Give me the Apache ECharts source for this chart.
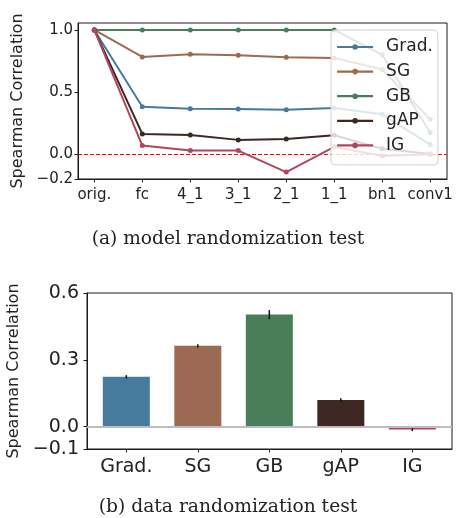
<!DOCTYPE html>
<html>
<head>
<meta charset="utf-8">
<script src="https://cdn.jsdelivr.net/npm/echarts@6/dist/echarts.min.js"></script>
<style>html,body{margin:0;padding:0;background:#fff}#c{width:456px;height:518px}</style>
</head>
<body>
<div id="c"></div>
<script>
const layers = ['orig.', 'fc', '4_1', '3_1', '2_1', '1_1', 'bn1', 'conv1'];
const methods = ['Grad.', 'SG', 'GB', 'gAP', 'IG'];
const gradVals = [1.0, 0.382, 0.366, 0.364, 0.358, 0.372, 0.321, 0.077];
const sgVals   = [1.0, 0.783, 0.805, 0.797, 0.781, 0.775, 0.682, 0.281];
const gbVals   = [1.0, 1.0, 1.0, 1.0, 1.0, 1.0, 0.80, 0.173];
const gapVals  = [1.0, 0.163, 0.155, 0.115, 0.123, 0.152, 0.043, 0.002];
const igVals   = [1.0, 0.069, 0.029, 0.029, -0.144, 0.059, -0.014, 0.0];
const barVals  = [0.224, 0.363, 0.503, 0.120, -0.013];
const barErr   = [0.003, 0.003, 0.016, 0.003, 0.002];
const topYTicks = [-0.2, 0, 0.5, 1.0];
const botYTicks = [-0.1, 0, 0.3, 0.6];

const colors = ['#467b9e', '#9c6a53', '#4a7d5a', '#3e2622', '#b0465f'];
const lineSeriesVals = [gradVals, sgVals, gbVals, gapVals, igVals];
const font = 'DejaVu Sans';
const axisCol = '#1a1a1a';
const fmtNum = v => (Math.abs(v) < 1e-9 ? '0.0' : v.toFixed(1).replace('-', '\u2212'));

const chart = echarts.init(document.getElementById('c'), null, {renderer: 'canvas'});

const lineSeries = lineSeriesVals.map((vals, k) => ({
  name: methods[k],
  type: 'line',
  xAxisIndex: 0, yAxisIndex: 0,
  data: vals.map((v, i) => [i, v]),
  symbol: 'circle', symbolSize: 5,
  lineStyle: {width: 2, color: colors[k]},
  itemStyle: {color: colors[k]},
  z: 3 + k,
  animation: false,
  markLine: k === 0 ? {
    silent: true, symbol: 'none', label: {show: false},
    lineStyle: {color: '#ff0000', width: 1, type: [4, 2]},
    data: [{yAxis: 0}]
  } : undefined
}));

const axisLineCfg = {show: true, onZero: false, lineStyle: {color: axisCol, width: 1}};

const option = {
  animation: false,
  title: [
    {text: '(a) model randomization test', left: 'center', top: 225,
     textStyle: {fontFamily: 'DejaVu Serif', fontSize: 18.6, fontWeight: 'normal', color: '#222'}},
    {text: '(b) data randomization test', left: 'center', top: 493,
     textStyle: {fontFamily: 'DejaVu Serif', fontSize: 18.7, fontWeight: 'normal', color: '#222'}}
  ],
  legend: {
    data: methods,
    orient: 'vertical',
    left: 331, top: 30,
    padding: [8.5, 5, 11, 5],
    itemWidth: 36, itemHeight: 7, itemGap: 7.6,
    backgroundColor: 'rgba(255,255,255,0.82)',
    borderColor: '#d0d0d0', borderWidth: 1, borderRadius: 4,
    lineStyle: {width: 2.2},
    textStyle: {fontFamily: font, fontSize: 17, color: '#222', padding: [0, 0, 0, 8]},
    z: 20
  },
  grid: [
    {left: 78, top: 23, width: 369, height: 156, show: true, borderColor: axisCol, borderWidth: 1,
     containLabel: false, outerBoundsMode: 'none'},
    {left: 87, top: 293, width: 365, height: 156, show: true, borderColor: axisCol, borderWidth: 1,
     containLabel: false, outerBoundsMode: 'none'}
  ],
  xAxis: [
    {type: 'value', gridIndex: 0, min: -0.34, max: 7.35,
     axisLine: axisLineCfg, splitLine: {show: false},
     axisTick: {show: true, length: 3.5, lineStyle: {color: axisCol}, customValues: layers.map((_, i) => i)},
     axisLabel: {customValues: layers.map((_, i) => i), formatter: v => layers[Math.round(v)],
                 fontFamily: font, fontSize: 15, color: '#222', margin: 9}},
    {type: 'value', gridIndex: 1, min: -0.55, max: 4.555,
     axisLine: axisLineCfg, splitLine: {show: false},
     axisTick: {show: true, length: 3.5, lineStyle: {color: axisCol}, customValues: methods.map((_, i) => i)},
     axisLabel: {customValues: methods.map((_, i) => i), formatter: v => methods[Math.round(v)],
                 fontFamily: font, fontSize: 19, color: '#222', margin: 9}}
  ],
  yAxis: [
    {type: 'value', gridIndex: 0, min: -0.2, max: 1.056,
     axisLine: axisLineCfg, splitLine: {show: false},
     axisTick: {show: true, length: 3.5, lineStyle: {color: axisCol}, customValues: topYTicks},
     axisLabel: {customValues: topYTicks, formatter: fmtNum, fontFamily: font, fontSize: 15, color: '#222', margin: 5},
     name: 'Spearman Correlation', nameLocation: 'middle', nameGap: 52,
     nameTextStyle: {fontFamily: font, fontSize: 16, color: '#222'}},
    {type: 'value', gridIndex: 1, min: -0.1, max: 0.6,
     axisLine: axisLineCfg, splitLine: {show: false},
     axisTick: {show: true, length: 3.5, lineStyle: {color: axisCol}, customValues: botYTicks},
     axisLabel: {customValues: botYTicks, formatter: fmtNum, fontFamily: font, fontSize: 19, color: '#222', margin: 8},
     name: 'Spearman Correlation', nameLocation: 'middle', nameGap: 55,
     nameTextStyle: {fontFamily: font, fontSize: 16, color: '#222'}}
  ],
  series: [
    ...lineSeries,
    {
      type: 'bar', xAxisIndex: 1, yAxisIndex: 1,
      barWidth: 47,
      data: barVals.map((v, i) => ({value: [i, v], itemStyle: {color: colors[i]}})),
      z: 2,
      markLine: {
        silent: true, symbol: 'none', label: {show: false},
        lineStyle: {color: '#bdbdbd', width: 2, type: 'solid'},
        data: [{yAxis: 0}]
      }
    },
    {
      type: 'custom', xAxisIndex: 1, yAxisIndex: 1, z: 5,
      data: barVals.map((v, i) => [i, v - barErr[i], v + barErr[i]]),
      renderItem: (params, api) => {
        const p1 = api.coord([api.value(0), api.value(1)]);
        const p2 = api.coord([api.value(0), api.value(2)]);
        return {type: 'line', shape: {x1: p1[0], y1: p1[1] + 1, x2: p2[0], y2: p2[1] - 1},
                style: {stroke: '#111', lineWidth: 1.5}};
      }
    }
  ]
};
chart.setOption(option);
</script>
</body>
</html>
